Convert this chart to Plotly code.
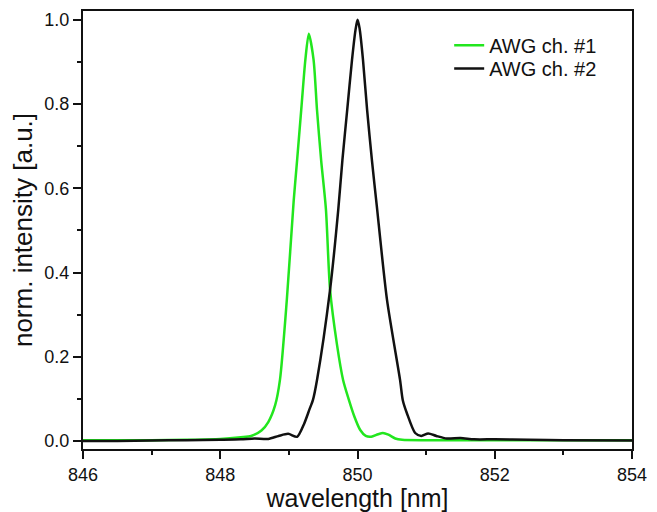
import plotly.graph_objects as go

# AWG channel #1 (green)
wl_ch1 = [846.0, 846.5, 847.0, 847.5, 848.0, 848.3, 848.45, 848.6, 848.7, 848.8, 848.87,
          848.97, 849.07, 849.12, 849.18, 849.24, 849.29, 849.36, 849.41, 849.47, 849.54,
          849.60, 849.70, 849.79, 849.87, 849.95, 850.04, 850.12, 850.2, 850.3, 850.37,
          850.45, 850.55, 850.65, 851.0, 852.0, 853.0, 854.0]
int_ch1 = [0.002, 0.002, 0.002, 0.003, 0.005, 0.009, 0.012, 0.025, 0.045, 0.085, 0.145,
           0.335, 0.57, 0.667, 0.786, 0.905, 0.967, 0.905, 0.786, 0.667, 0.55,
           0.36, 0.23, 0.145, 0.10, 0.06, 0.026, 0.012, 0.01, 0.016, 0.019,
           0.015, 0.006, 0.003, 0.002, 0.002, 0.002, 0.002]

# AWG channel #2 (black)
wl_ch2 = [846.0, 846.5, 847.0, 847.5, 848.0, 848.3, 848.5, 848.7, 848.85, 848.99, 849.12,
          849.22, 849.30, 849.35, 849.41, 849.60, 849.72, 849.78, 849.85, 849.92, 849.97,
          850.0, 850.03, 850.08, 850.14, 850.21, 850.28, 850.43, 850.62, 850.66, 850.72,
          850.84, 850.93, 851.03, 851.15, 851.3, 851.5, 851.7, 852.0, 852.5, 853.0, 854.0]
int_ch2 = [0.0, 0.0, 0.001, 0.002, 0.003, 0.004, 0.006, 0.005, 0.012, 0.017, 0.01,
           0.04, 0.075, 0.097, 0.145, 0.359, 0.55, 0.667, 0.786, 0.905, 0.975,
           1.0, 0.98, 0.905, 0.786, 0.667, 0.56, 0.335, 0.145, 0.097, 0.066,
           0.019, 0.012, 0.018, 0.012, 0.006, 0.007, 0.004, 0.004, 0.003, 0.002, 0.001]

series_names = ["AWG ch. #1", "AWG ch. #2"]
x_ticks = [846, 848, 850, 852, 854]
y_ticks = [0.0, 0.2, 0.4, 0.6, 0.8, 1.0]

FONT = "Liberation Sans, Arial, sans-serif"

fig = go.Figure()
fig.add_trace(go.Scatter(x=wl_ch1, y=int_ch1, mode="lines", name=series_names[0],
                         legend="legend", showlegend=True,
                         line=dict(color="#22e61e", width=2.5, shape="spline", smoothing=0.7)))
fig.add_trace(go.Scatter(x=wl_ch2, y=int_ch2, mode="lines", name=series_names[1],
                         legend="legend2", showlegend=True,
                         line=dict(color="#111111", width=2.5, shape="spline", smoothing=0.7)))

leg_common = dict(xanchor="left", yanchor="middle", bgcolor="rgba(0,0,0,0)",
                  font=dict(size=20), itemwidth=30, borderwidth=0, visible=True)

fig.update_layout(
    width=649, height=504,
    margin=dict(l=75, r=25, t=3, b=63),
    paper_bgcolor="white", plot_bgcolor="white",
    font=dict(family=FONT, color="#111111", size=18),
    showlegend=True,
    legend=dict(x=0.667, y=0.922, **leg_common),
    legend2=dict(x=0.667, y=0.869, **leg_common),
    xaxis=dict(
        range=[846, 854], tickvals=x_ticks, ticktext=[str(v) for v in x_ticks],
        ticks="outside", ticklen=8, tickwidth=2, tickcolor="#111111",
        showline=True, linewidth=2, linecolor="#111111", mirror=True,
        showgrid=False, zeroline=False, automargin=False,
        minor=dict(tickvals=[847, 849, 851, 853], ticks="outside", ticklen=4,
                   tickwidth=2, tickcolor="#111111", showgrid=False),
        title=dict(text="wavelength [nm]", font=dict(size=25), standoff=6),
        tickfont=dict(size=18),
    ),
    yaxis=dict(
        range=[-0.019, 1.021], tickvals=y_ticks, ticktext=["%.1f" % v for v in y_ticks],
        ticks="outside", ticklen=8, tickwidth=2, tickcolor="#111111",
        showline=True, linewidth=2, linecolor="#111111", mirror=True,
        showgrid=False, zeroline=False, automargin=False,
        minor=dict(tickvals=[0.1, 0.3, 0.5, 0.7, 0.9], ticks="outside", ticklen=4,
                   tickwidth=2, tickcolor="#111111", showgrid=False),
        title=dict(text="norm. intensity [a.u.]", font=dict(size=26), standoff=6),
        tickfont=dict(size=18),
    ),
)

fig.write_html("out.html")
